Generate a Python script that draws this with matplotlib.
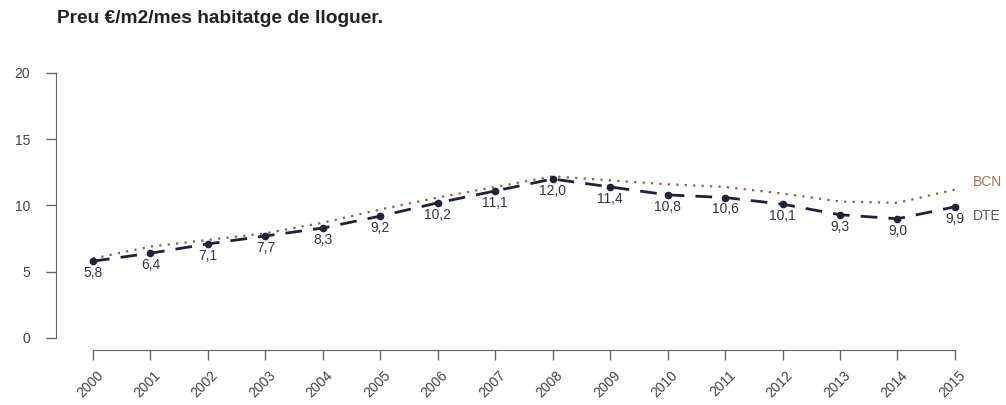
import matplotlib.pyplot as plt
import matplotlib.transforms as mtransforms

# --------------------

years = [2000, 2001, 2002, 2003, 2004, 2005, 2006, 2007,
         2008, 2009, 2010, 2011, 2012, 2013, 2014, 2015]
dte = [5.8, 6.4, 7.1, 7.7, 8.3, 9.2, 10.2, 11.1,
       12.0, 11.4, 10.8, 10.6, 10.1, 9.3, 9.0, 9.9]
bcn = [6.0, 6.9, 7.4, 7.9, 8.7, 9.7, 10.6, 11.4,
       12.2, 11.9, 11.6, 11.4, 10.9, 10.3, 10.2, 11.2]
y_ticks = [0, 5, 10, 15, 20]

plt.rcParams["font.family"] = ["Liberation Sans", "DejaVu Sans"]

# ---------------------

fig = plt.figure(figsize = (10.06, 4.05), dpi = 100)
ax = fig.add_axes([0.0557, 0.1358, 0.9135, 0.684])

ax.plot(years, bcn, color = "#9a5848", linewidth = 1.6, linestyle = (0, (1, 2.8)))
ax.plot(years, dte, color = "#23213a", linewidth = 2.0, linestyle = (0, (6, 4)),
        marker = "o", markersize = 4.5)

for x, v in zip(years, dte):
    ax.annotate(f"{v:.1f}".replace(".", ","), (x, v), xytext = (0, -3.5),
                textcoords = "offset points", ha = "center", va = "top",
                fontsize = 10, color = "#34344a")

ax.text(2015.32, bcn[-1] + 0.6, "BCN", color = "#a8705c", fontsize = 10, va = "center")
ax.text(2015.32, dte[-1] - 0.7, "DTE", color = "#555560", fontsize = 10, va = "center")

ax.set_xlim(1999.356, 2015.35)
ax.set_ylim(-0.906, 20)

# year labels, rotated, drawn as text so they can be nudged
ax.set_xticks(years)
ax.set_xticklabels([])
lab_trans = mtransforms.blended_transform_factory(ax.transData, ax.transAxes) + \
    mtransforms.ScaledTranslation(0.08, -0.23, fig.dpi_scale_trans)
for yr in years:
    ax.text(yr, 0, str(yr), transform = lab_trans, rotation = 45, ha = "right",
            va = "center", rotation_mode = "anchor", fontsize = 10, color = "#444444")

ax.set_yticks(y_ticks)
ax.set_yticklabels([str(t) for t in y_ticks], fontsize = 10, color = "#444444")

ax.tick_params(axis = "y", length = 7.5, width = 1, color = "#666666", pad = 11)
ax.tick_params(axis = "x", length = 7.5, width = 1, color = "#666666")

for s in ["top", "right"]:
    ax.spines[s].set_visible(False)
ax.spines["left"].set_bounds(0, 20)
ax.spines["bottom"].set_bounds(2000, 2015)
ax.spines["left"].set_color("#666666")
ax.spines["bottom"].set_color("#666666")

fig.text(0.057, 0.955, "Preu €/m2/mes habitatge de lloguer.", fontsize = 13.8,
         fontweight = "bold", color = "#222222", va = "center")

plt.savefig("out.png", dpi = 100)
